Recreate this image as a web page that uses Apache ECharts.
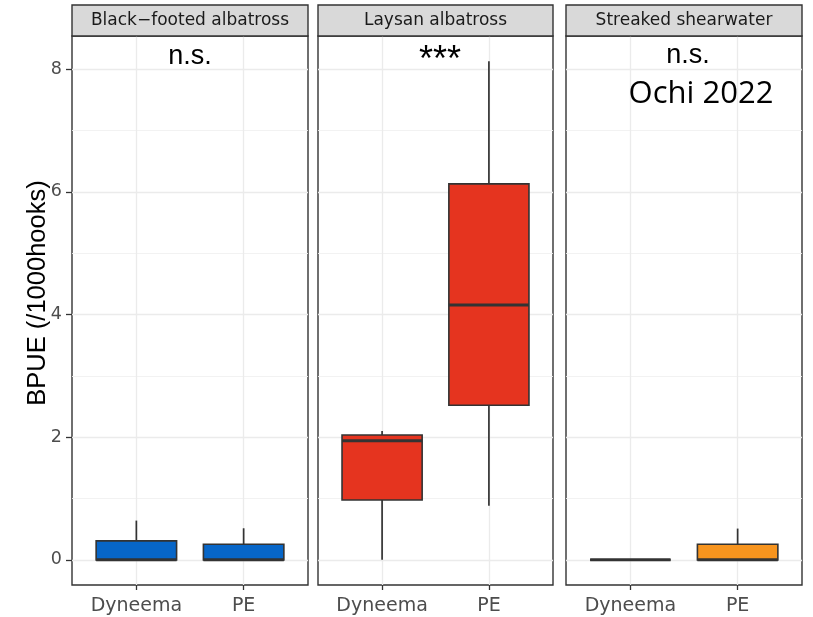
<!DOCTYPE html>
<html>
<head>
<meta charset="utf-8">
<script src="https://cdn.jsdelivr.net/npm/echarts@6/dist/echarts.min.js"></script>
<style>html,body{margin:0;padding:0;background:#fff}#c{width:813px;height:617px}</style>
</head>
<body>
<div id="c"></div>
<script>
// ---- data ----
const categories = ['Dyneema', 'PE'];
const species = ['Black\u2212footed albatross', 'Laysan albatross', 'Streaked shearwater'];
// box stats per category: [lower whisker, Q1, median, Q3, upper whisker]
const blackFooted = [[0, 0, 0, 0.31, 0.64], [0, 0, 0, 0.255, 0.515]];
const laysan = [[0, 0.975, 1.94, 2.035, 2.10], [0.88, 2.52, 4.155, 6.13, 8.13]];
const streaked = [[0, 0, 0, 0, 0], [0, 0, 0, 0.255, 0.51]];
const significance = ['n.s.', '***', 'n.s.'];
const yTicks = [0, 2, 4, 6, 8];
const yMinorTicks = [1, 3, 5, 7];
const yTitle = 'BPUE (/1000hooks)';
const credit = 'Ochi 2022';

// ---- layout / style ----
const panelLeft = [72, 318, 566];
const panelWidth = [236, 235, 236];
const panelTop = 36, panelHeight = 549;
const colors = ['#0766C8', '#E5341F', '#F7941E'];
const groups = [blackFooted, laysan, streaked];
const BOX_W = 0.75;

const chart = echarts.init(document.getElementById('c'), null, {renderer: 'canvas'});

function renderBox(color) {
  return function (params, api) {
    const x = api.value(0);
    const pLo = api.coord([x, api.value(1)]);
    const pQ1 = api.coord([x, api.value(2)]);
    const pMed = api.coord([x, api.value(3)]);
    const pQ3 = api.coord([x, api.value(4)]);
    const pHi = api.coord([x, api.value(5)]);
    const half = api.size([BOX_W, 0])[0] / 2;
    const ls = {stroke: '#333333', lineWidth: 1.7};
    return {
      type: 'group',
      children: [
        {type: 'line', shape: {x1: pLo[0], y1: pLo[1], x2: pQ1[0], y2: pQ1[1]}, style: ls},
        {type: 'line', shape: {x1: pQ3[0], y1: pQ3[1], x2: pHi[0], y2: pHi[1]}, style: ls},
        {type: 'rect', shape: {x: pQ3[0] - half, y: pQ3[1], width: 2 * half, height: pQ1[1] - pQ3[1]},
          style: {fill: color, stroke: '#333333', lineWidth: 1.6}},
        {type: 'line', shape: {x1: pMed[0] - half, y1: pMed[1], x2: pMed[0] + half, y2: pMed[1]},
          style: {stroke: '#333333', lineWidth: 3}}
      ]
    };
  };
}

const grids = [], xAxes = [], yAxes = [], series = [], graphics = [];
for (let i = 0; i < 3; i++) {
  grids.push({left: panelLeft[i], top: panelTop, width: panelWidth[i], height: panelHeight,
    show: true, borderColor: '#333333', borderWidth: 1.4, backgroundColor: '#ffffff', containLabel: false});
  xAxes.push({
    type: 'value', gridIndex: i, min: 0.4, max: 2.6, position: 'bottom',
    axisLine: {show: false, onZero: false},
    axisTick: {show: true, length: 5, lineStyle: {color: '#333333', width: 1.3}, customValues: [1, 2]},
    axisLabel: {show: true, customValues: [1, 2], margin: 12, color: '#4d4d4d',
      fontFamily: 'DejaVu Sans', fontSize: 19,
      formatter: v => categories[Math.round(v) - 1] || ''},
    splitLine: {show: true, lineStyle: {color: '#ebebeb', width: 1.3}}
  });
  yAxes.push({
    type: 'value', gridIndex: i, min: -0.41, max: 8.54, position: 'left',
    axisLine: {show: false, onZero: false},
    axisTick: {show: i === 0, length: 6, lineStyle: {color: '#333333', width: 1.3}, customValues: yTicks},
    axisLabel: {show: i === 0, customValues: yTicks, margin: 10, color: '#4d4d4d',
      fontFamily: 'DejaVu Sans', fontSize: 17.5},
    splitLine: {show: true, lineStyle: {color: '#ebebeb', width: 1.3}}
  });
  yAxes.push({
    type: 'value', gridIndex: i, min: -0.41, max: 8.54, position: 'left',
    axisLine: {show: false, onZero: false},
    axisTick: {show: false, customValues: yMinorTicks},
    axisLabel: {show: false, customValues: yMinorTicks},
    splitLine: {show: true, lineStyle: {color: '#f0f0f0', width: 0.9}}
  });
  series.push({
    type: 'custom', xAxisIndex: i, yAxisIndex: 2 * i, z: 5,
    renderItem: renderBox(colors[i]),
    encode: {x: 0, y: [1, 2, 3, 4, 5]},
    data: groups[i].map((s, k) => [k + 1].concat(s))
  });
  // strip
  graphics.push({type: 'rect', shape: {x: panelLeft[i], y: 5, width: panelWidth[i], height: 31},
    style: {fill: '#d9d9d9', stroke: '#333333', lineWidth: 1.4}, z: 10});
  graphics.push({type: 'text', x: panelLeft[i] + panelWidth[i] / 2, y: 21,
    style: {text: species[i], font: '17px "DejaVu Sans"', fill: '#1a1a1a', textAlign: 'center', textVerticalAlign: 'middle'}, z: 11});
}
// significance labels
graphics.push({type: 'text', x: 190, y: 57, style: {text: significance[0], font: '27px "Liberation Sans"', fill: '#000', textAlign: 'center', textVerticalAlign: 'middle'}, z: 12});
graphics.push({type: 'text', x: 440, y: 61.5, style: {text: significance[1], font: '36px "Liberation Sans"', fill: '#000', textAlign: 'center', textVerticalAlign: 'middle'}, z: 12});
graphics.push({type: 'text', x: 688, y: 55.5, style: {text: significance[2], font: '27px "Liberation Sans"', fill: '#000', textAlign: 'center', textVerticalAlign: 'middle'}, z: 12});
graphics.push({type: 'text', x: 701, y: 94, style: {text: credit, font: '31px "Open Sans"', fill: '#000', textAlign: 'center', textVerticalAlign: 'middle'}, z: 12});
graphics.push({type: 'text', x: 37.5, y: 293, rotation: Math.PI / 2,
  style: {text: yTitle, font: '25.5px "Liberation Sans"', fill: '#000', textAlign: 'center', textVerticalAlign: 'middle'}, z: 12});

chart.setOption({
  animation: false,
  backgroundColor: '#ffffff',
  grid: grids, xAxis: xAxes, yAxis: yAxes, series: series,
  graphic: graphics
});
</script>
</body>
</html>
